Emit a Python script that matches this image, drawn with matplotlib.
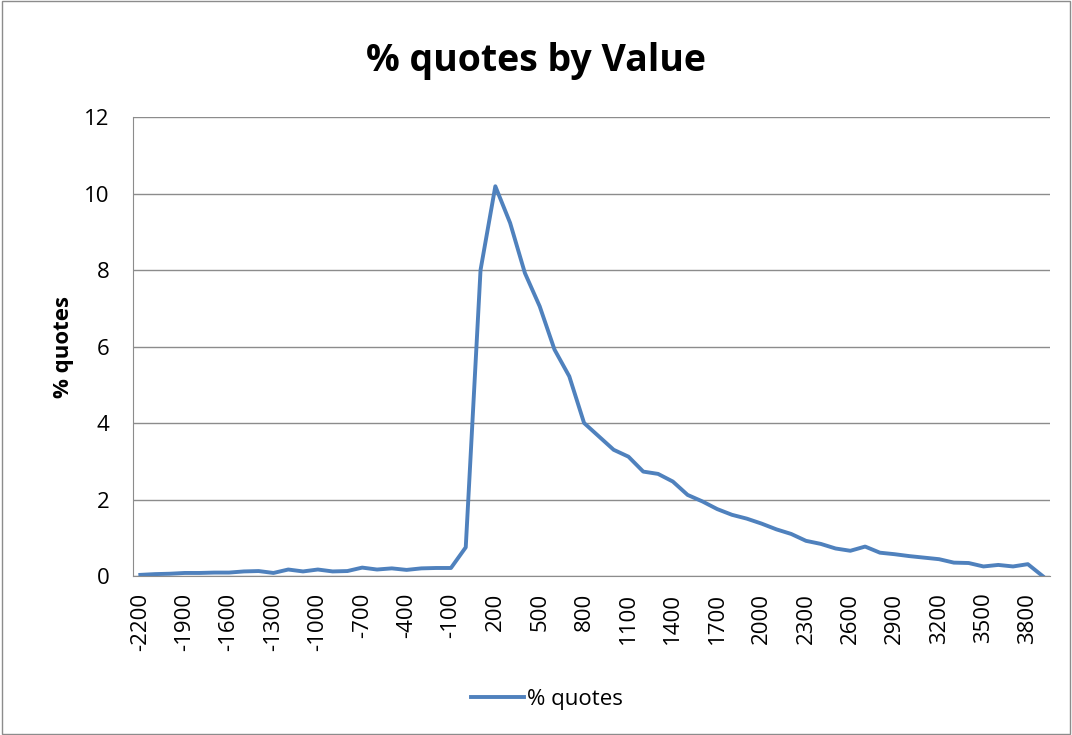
import matplotlib
matplotlib.use('Agg')
import matplotlib.pyplot as plt
from matplotlib.patches import Rectangle

plt.rcParams['font.family'] = ['Open Sans', 'DejaVu Sans']

# value buckets -2200 .. 3900 (step 100)
values = list(range(-2200, 4000, 100))
pct_quotes = [0.03, 0.05, 0.06, 0.08, 0.08, 0.09, 0.09, 0.12, 0.13, 0.08,
              0.17, 0.12, 0.17, 0.12, 0.13, 0.22, 0.17, 0.20, 0.16, 0.20,
              0.21, 0.21, 0.75, 8.0, 10.19, 9.23, 7.92, 7.05, 5.92, 5.22,
              4.0, 3.65, 3.3, 3.12, 2.73, 2.67, 2.47, 2.12, 1.95, 1.75,
              1.6, 1.5, 1.37, 1.22, 1.1, 0.92, 0.84, 0.72, 0.66, 0.77,
              0.61, 0.57, 0.52, 0.48, 0.44, 0.35, 0.34, 0.25, 0.29, 0.25,
              0.31, 0.0]
tick_step = 3

fig = plt.figure(figsize=(10.72, 7.35), dpi=100)
fig.patches.append(Rectangle((0.002, 0.002), 0.996, 0.996, transform=fig.transFigure,
                             fill=False, edgecolor='#8c8c8c', linewidth=1))
ax = fig.add_axes([0.124, 0.2163, 0.8555, 0.6245])

xs = list(range(len(values)))
ax.plot(xs, pct_quotes, color='#4F81BD', linewidth=2.8, label='% quotes')

ax.set_xlim(-0.5, len(values) - 0.5)
ax.set_ylim(0, 12)
ax.set_yticks(range(0, 13, 2))
ax.set_xticks(xs[::tick_step])
ax.set_xticklabels([str(v) for v in values[::tick_step]], rotation=90, fontsize=16)
ax.tick_params(axis='y', labelsize=16, length=0, pad=17)
ax.tick_params(axis='x', length=0, pad=12)
ax.grid(axis='y', color='#8c8c8c', linewidth=1)
ax.set_axisbelow(True)
for s in ['top', 'right']:
    ax.spines[s].set_visible(False)
for s in ['left', 'bottom']:
    ax.spines[s].set_color('#8c8c8c')

ax.set_ylabel('% quotes', fontsize=16, fontweight='bold', labelpad=7)
fig.suptitle('% quotes by Value', fontsize=27, fontweight='bold', y=0.917, va='center')
fig.legend(loc='center', bbox_to_anchor=(0.51, 0.048), frameon=False, fontsize=16,
           handlelength=2.4, handletextpad=0.1)

fig.savefig('out.png', dpi=100)
